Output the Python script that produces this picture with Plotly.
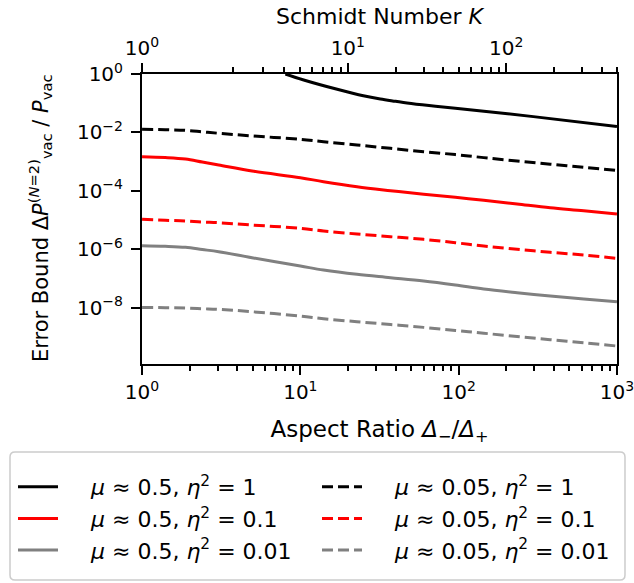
import numpy as np
import plotly.graph_objects as go

# ---------------- data ----------------
aspect_ratio = [1, 1.4, 1.88, 2.4, 3.05, 4.95, 10, 14.0, 22.8, 37.1, 60.1, 95.3, 144, 234, 379, 617, 1000]

black_dashed = [1.28e-2, 1.23e-2, 1.18e-2, 1.05e-2, 9.33e-3, 7.59e-3, 5.81e-3, 4.81e-3, 3.72e-3,
                2.85e-3, 2.19e-3, 1.74e-3, 1.37e-3, 1.05e-3, 8.15e-4, 6.33e-4, 4.96e-4]
red_solid = [1.47e-3, 1.38e-3, 1.23e-3, 9.70e-4, 7.66e-4, 4.76e-4, 2.81e-4, 2.05e-4, 1.38e-4,
             1.01e-4, 7.59e-5, 5.98e-5, 4.73e-5, 3.53e-5, 2.64e-5, 2.08e-5, 1.60e-5]
red_dashed = [1.06e-5, 9.84e-6, 9.25e-6, 8.51e-6, 8.09e-6, 6.75e-6, 5.20e-6, 4.20e-6, 3.32e-6,
              2.68e-6, 2.18e-6, 1.67e-6, 1.29e-6, 9.93e-7, 7.83e-7, 6.32e-7, 4.88e-7]
gray_solid = [1.32e-6, 1.26e-6, 1.16e-6, 9.77e-7, 8.20e-7, 5.12e-7, 2.66e-7, 1.94e-7, 1.38e-7,
              1.06e-7, 8.15e-8, 5.94e-8, 4.34e-8, 3.24e-8, 2.49e-8, 1.97e-8, 1.59e-8]
gray_dashed = [1.02e-8, 1.00e-8, 9.68e-9, 9.16e-9, 8.75e-9, 7.24e-9, 5.15e-9, 4.17e-9, 3.29e-9,
               2.64e-9, 2.11e-9, 1.66e-9, 1.33e-9, 1.02e-9, 7.96e-10, 6.24e-10, 4.84e-10]

aspect_ratio_black_solid = [8.04, 10.5, 17.1, 25.0, 32.0, 40.0, 47.2, 65.0, 95.3, 296.5, 1000]
black_solid = [1.0, 0.624, 0.299, 0.179, 0.139, 0.116, 0.1016, 0.0828, 0.0668, 0.0347, 0.0158]

series_names = [
    "<i>μ</i> ≈ 0.5, <i>η</i><sup>2</sup> = 1",
    "<i>μ</i> ≈ 0.05, <i>η</i><sup>2</sup> = 1",
    "<i>μ</i> ≈ 0.5, <i>η</i><sup>2</sup> = 0.1",
    "<i>μ</i> ≈ 0.05, <i>η</i><sup>2</sup> = 0.1",
    "<i>μ</i> ≈ 0.5, <i>η</i><sup>2</sup> = 0.01",
    "<i>μ</i> ≈ 0.05, <i>η</i><sup>2</sup> = 0.01",
]

x_major = [1, 10, 100, 1000]
x_major_text = ["10<sup>0</sup>", "10<sup>1</sup>", "10<sup>2</sup>", "10<sup>3</sup>"]
x_minor = [2, 3, 4, 5, 6, 7, 8, 9, 20, 30, 40, 50, 60, 70, 80, 90,
           200, 300, 400, 500, 600, 700, 800, 900]
y_major = [1, 1e-2, 1e-4, 1e-6, 1e-8]
y_major_text = ["10<sup>0</sup>", "10<sup>−2</sup>", "10<sup>−4</sup>",
                "10<sup>−6</sup>", "10<sup>−8</sup>"]

schmidt_major = [1, 10, 100]
schmidt_major_text = ["10<sup>0</sup>", "10<sup>1</sup>", "10<sup>2</sup>"]
schmidt_minor = [2, 3, 4, 5, 6, 7, 8, 9, 20, 30, 40, 50, 60, 70, 80, 90, 200, 300, 400, 500]


def schmidt_to_ratio(k):
    # K = (r + 1/r) / 2  ->  r = K + sqrt(K^2 - 1)
    k = np.asarray(k, dtype=float)
    return (k + np.sqrt(k ** 2 - 1)).tolist()


FONT = "DejaVu Sans"
TICK_FS = 20
TITLE_FS = 22
LEG_FS = 22
DASH = "11px,5px"
W, H = 634, 583
PL, PR, PT, PB = 142, 617, 74, 364   # plot-area edges in pixels
LEG_PAD = "&nbsp;" * 4

fig = go.Figure()
curves = [
    (aspect_ratio_black_solid, black_solid, "black", "solid", "legend"),
    (aspect_ratio, black_dashed, "black", DASH, "legend2"),
    (aspect_ratio, red_solid, "#ff0000", "solid", "legend"),
    (aspect_ratio, red_dashed, "#ff0000", DASH, "legend2"),
    (aspect_ratio, gray_solid, "#808080", "solid", "legend"),
    (aspect_ratio, gray_dashed, "#808080", DASH, "legend2"),
]
for (xs, ys, col, dash, leg), name in zip(curves, series_names):
    fig.add_trace(go.Scatter(
        x=xs, y=ys, mode="lines", name=LEG_PAD + name, legend=leg,
        line=dict(color=col, width=3, dash=dash, shape="spline", smoothing=1.0),
        hoverinfo="skip",
    ))

# invisible trace so the top (Schmidt number) axis is drawn
fig.add_trace(go.Scatter(x=[1, 1000], y=[1e-13, 1e-13], xaxis="x2", mode="lines",
                         line=dict(width=0), showlegend=False, hoverinfo="skip"))

axis_common = dict(showgrid=False, zeroline=False, showline=True, linecolor="black",
                   linewidth=2, ticks="outside", ticklen=9, tickwidth=2, tickcolor="black",
                   automargin=False, ticklabeloverflow="allow",
                   tickfont=dict(family=FONT, size=TICK_FS, color="black"))

# horizontal legends whose entries are wide enough to wrap one per row
legend_common = dict(orientation="h", xref="container", yref="container",
                     xanchor="left", yanchor="top", borderwidth=0,
                     entrywidth=255, entrywidthmode="pixels",
                     bgcolor="rgba(0,0,0,0)", itemwidth=40, tracegroupgap=0,
                     font=dict(family=FONT, size=LEG_FS, color="black"))
legend_top = 466


def px2paper_x(px):
    return (px - PL) / (PR - PL)


def px2paper_y(py):
    return (PB - py) / (PB - PT)


# rounded legend frame
bx0, bx1, by0, by1, rad = 10, 625, 452, 580, 5
pts = [
    ("M", bx0 + rad, by0), ("L", bx1 - rad, by0), ("Q", bx1, by0, bx1, by0 + rad),
    ("L", bx1, by1 - rad), ("Q", bx1, by1, bx1 - rad, by1),
    ("L", bx0 + rad, by1), ("Q", bx0, by1, bx0, by1 - rad),
    ("L", bx0, by0 + rad), ("Q", bx0, by0, bx0 + rad, by0),
]
path = ""
for p in pts:
    cmd, coords = p[0], p[1:]
    conv = []
    for j in range(0, len(coords), 2):
        conv.append(f"{px2paper_x(coords[j]):.5f},{px2paper_y(coords[j + 1]):.5f}")
    path += cmd + " ".join(conv) + " "
path += "Z"

XR = [-0.0003, 3.0003]

fig.update_layout(
    width=W, height=H,
    margin=dict(l=PL, r=W - PR, t=PT, b=H - PB),
    plot_bgcolor="white", paper_bgcolor="white",
    font=dict(family=FONT, size=TICK_FS, color="black"),
    xaxis=dict(type="log", range=XR, mirror=True,
               tickmode="array", tickvals=x_major, ticktext=x_major_text,
               minor=dict(tickmode="array", tickvals=x_minor, ticks="outside",
                          ticklen=5, tickwidth=1.5, tickcolor="black"),
               title=dict(text="Aspect Ratio <i>Δ</i><sub>−</sub>/<i>Δ</i><sub>+</sub>",
                          font=dict(family=FONT, size=23), standoff=18),
               **axis_common),
    xaxis2=dict(type="log", range=XR, overlaying="x", side="top", anchor="y",
                tickmode="array", tickvals=schmidt_to_ratio(schmidt_major),
                ticktext=schmidt_major_text,
                minor=dict(tickmode="array", tickvals=schmidt_to_ratio(schmidt_minor),
                           ticks="outside", ticklen=5, tickwidth=1.5, tickcolor="black"),
                **axis_common),
    yaxis=dict(type="log", range=[-9.93, 0], mirror=True,
               tickmode="array", tickvals=y_major, ticktext=y_major_text,
               ticklabelstandoff=4,
               **axis_common),
    annotations=[
        dict(text="Schmidt Number <i>K</i>", xref="paper", yref="paper",
             x=px2paper_x(380), y=px2paper_y(16), xanchor="center", yanchor="middle",
             showarrow=False, font=dict(family=FONT, size=TITLE_FS, color="black")),
        dict(text="Error Bound Δ<i>P</i><sup>(<i>N</i>=2)</sup><sub>vac</sub> / <i>P</i><sub>vac</sub>",
             xref="paper", yref="paper", x=px2paper_x(40), y=px2paper_y(218),
             xanchor="center", yanchor="middle", textangle=-90, showarrow=False,
             font=dict(family=FONT, size=21, color="black")),
    ],
    legend=dict(x=13 / W, y=1 - legend_top / H, **legend_common),
    legend2=dict(x=317 / W, y=1 - legend_top / H, **legend_common),
    shapes=[dict(type="path", xref="paper", yref="paper", path=path,
                 line=dict(color="#cccccc", width=1.5), fillcolor="rgba(0,0,0,0)",
                 layer="below")],
    showlegend=True,
)

fig.write_html("out.html", post_script="document.body.style.margin='0px';",
               config={"displayModeBar": False})
